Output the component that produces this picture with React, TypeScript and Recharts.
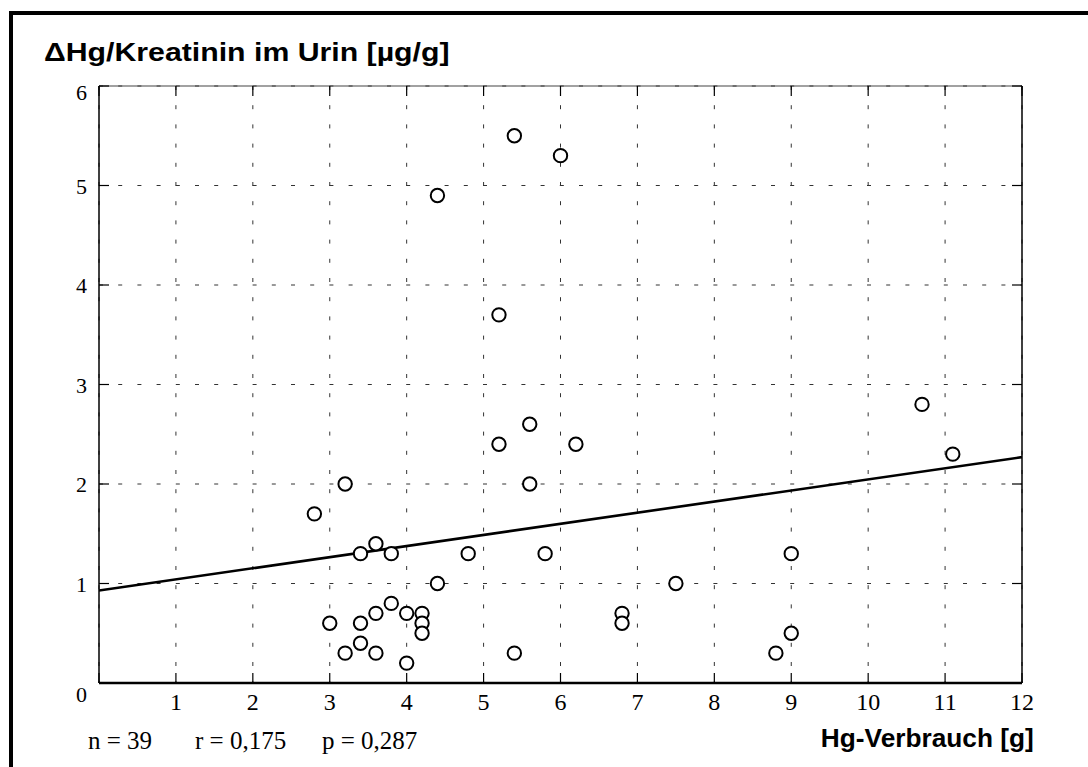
import React from 'react';
import { ScatterChart, Scatter, XAxis, YAxis, CartesianGrid } from 'recharts';

// Hg consumption [g] per subject
const hgConsumption = [
  2.8, 3.2, 3.0, 3.2, 3.4, 3.4, 3.4, 3.6, 3.6, 3.6,
  3.8, 3.8, 4.0, 4.0, 4.2, 4.2, 4.2, 4.4, 4.4, 4.8,
  5.2, 5.2, 5.4, 5.4, 5.6, 5.6, 5.8, 6.0, 6.2, 6.8,
  6.8, 7.5, 8.8, 9.0, 9.0, 10.7, 11.1,
];

// change of Hg/creatinine in urine [µg/g]
const hgCreatinineDelta = [
  1.7, 2.0, 0.6, 0.3, 1.3, 0.6, 0.4, 1.4, 0.7, 0.3,
  1.3, 0.8, 0.7, 0.2, 0.7, 0.6, 0.5, 1.0, 4.9, 1.3,
  3.7, 2.4, 5.5, 0.3, 2.6, 2.0, 1.3, 5.3, 2.4, 0.7,
  0.6, 1.0, 0.3, 1.3, 0.5, 2.8, 2.3,
];

// linear regression endpoints over the x range
const regressionX = [0, 12];
const regressionY = [0.93, 2.27];

const xTicks = [0, 1, 2, 3, 4, 5, 6, 7, 8, 9, 10, 11, 12];
const yTicks = [0, 1, 2, 3, 4, 5, 6];

const statsLabels = ['n = 39', 'r = 0,175', 'p = 0,287'];
const yTitle = 'ΔHg/Kreatinin im Urin [µg/g]';
const xTitle = 'Hg-Verbrauch [g]';

const points = hgConsumption.map((x, i) => ({ x, y: hgCreatinineDelta[i] }));
const regression = regressionX.map((x, i) => ({ x, y: regressionY[i] }));

const SERIF = '"Liberation Serif", "Times New Roman", serif';
const SANS = '"Liberation Sans", Arial, sans-serif';
const TICK_LEN = 10;

const BottomTick = (props: any) => {
  const { x, y, payload } = props;
  return (
    <g>
      <line x1={x} x2={x} y1={y} y2={y - TICK_LEN} stroke="#000" strokeWidth={1.2} />
      {payload.value !== 0 && (
        <text x={x} y={y + 27} textAnchor="middle" fontFamily={SERIF} fontSize={24} fill="#000">
          {payload.value}
        </text>
      )}
    </g>
  );
};

const TopTick = (props: any) => {
  const { x, y } = props;
  return <line x1={x} x2={x} y1={y} y2={y + TICK_LEN} stroke="#000" strokeWidth={1.2} />;
};

const LeftTick = (props: any) => {
  const { x, y, payload } = props;
  const dy = payload.value === 0 ? 19 : payload.value === 6 ? 14 : 8;
  return (
    <g>
      <line x1={x} x2={x + TICK_LEN} y1={y} y2={y} stroke="#000" strokeWidth={1.2} />
      <text x={x - 12} y={y + dy} textAnchor="end" fontFamily={SERIF} fontSize={22} fill="#000">
        {payload.value}
      </text>
    </g>
  );
};

const RightTick = (props: any) => {
  const { x, y } = props;
  return <line x1={x} x2={x - TICK_LEN} y1={y} y2={y} stroke="#000" strokeWidth={1.2} />;
};

const OpenCircle = (props: any) => (
  <circle cx={props.cx} cy={props.cy} r={6.7} fill="#fff" stroke="#000" strokeWidth={2} />
);

const NoShape = () => <g />;

export default function App() {
  return (
    <div
      style={{
        position: 'fixed',
        left: 0,
        top: 0,
        width: 1088,
        height: 767,
        overflow: 'hidden',
        background: '#fff',
      }}
    >
      {/* outer frame */}
      <div style={{ position: 'absolute', left: 9, top: 11, width: 1079, height: 4, background: '#000' }} />
      <div style={{ position: 'absolute', left: 9, top: 11, width: 4, height: 756, background: '#000' }} />

      <div
        style={{
          position: 'absolute',
          left: 44,
          top: 37,
          fontFamily: SANS,
          fontWeight: 'bold',
          fontSize: 25,
          lineHeight: '30px',
          whiteSpace: 'nowrap',
          color: '#000',
          transform: 'scaleX(1.21)',
          transformOrigin: 'left center',
        }}
      >
        {yTitle}
      </div>

      <ScatterChart
        width={1088}
        height={767}
        margin={{ top: 76, right: 56, bottom: 54, left: 39 }}
        style={{ position: 'absolute', left: 0, top: 0 }}
      >
        <CartesianGrid stroke="#333" strokeWidth={1} strokeDasharray="4 15.2" />
        <XAxis
          xAxisId={0}
          type="number"
          dataKey="x"
          domain={[0, 12]}
          ticks={xTicks}
          allowDataOverflow
          height={30}
          tickSize={0}
          tickMargin={0}
          tick={<BottomTick />}
          axisLine={{ stroke: '#000', strokeWidth: 2.5 }}
          tickLine={false}
          interval={0}
        />
        <XAxis
          xAxisId="top"
          orientation="top"
          type="number"
          dataKey="x"
          domain={[0, 12]}
          ticks={xTicks}
          allowDataOverflow
          height={10}
          tickSize={0}
          tickMargin={0}
          tick={<TopTick />}
          axisLine={{ stroke: '#444', strokeWidth: 1.2 }}
          tickLine={false}
          interval={0}
        />
        <YAxis
          yAxisId={0}
          type="number"
          dataKey="y"
          domain={[0, 6]}
          ticks={yTicks}
          allowDataOverflow
          width={60}
          tickSize={0}
          tickMargin={0}
          tick={<LeftTick />}
          axisLine={{ stroke: '#000', strokeWidth: 1.5 }}
          tickLine={false}
          interval={0}
        />
        <YAxis
          yAxisId="right"
          orientation="right"
          type="number"
          dataKey="y"
          domain={[0, 6]}
          ticks={yTicks}
          allowDataOverflow
          width={10}
          tickSize={0}
          tickMargin={0}
          tick={<RightTick />}
          axisLine={{ stroke: '#000', strokeWidth: 1.5 }}
          tickLine={false}
          interval={0}
        />
        <Scatter
          data={regression}
          line={{ stroke: '#000', strokeWidth: 2.6 }}
          shape={<NoShape />}
          isAnimationActive={false}
        />
        <Scatter data={points} shape={<OpenCircle />} isAnimationActive={false} />
        <Scatter data={regression} xAxisId="top" yAxisId="right" shape={<NoShape />} isAnimationActive={false} />
      </ScatterChart>

      <div
        style={{
          position: 'absolute',
          top: 725,
          left: 0,
          width: 1088,
          height: 32,
          fontFamily: SERIF,
          fontSize: 25,
          lineHeight: '32px',
          color: '#000',
        }}
      >
        <span style={{ position: 'absolute', left: 88 }}>{statsLabels[0]}</span>
        <span style={{ position: 'absolute', left: 195 }}>{statsLabels[1]}</span>
        <span style={{ position: 'absolute', left: 322 }}>{statsLabels[2]}</span>
      </div>

      <div
        style={{
          position: 'absolute',
          right: 1088 - 1034,
          top: 723,
          fontFamily: SANS,
          fontWeight: 'bold',
          fontSize: 25,
          lineHeight: '30px',
          whiteSpace: 'nowrap',
          color: '#000',
          transform: 'scaleX(1.05)',
          transformOrigin: 'right center',
        }}
      >
        {xTitle}
      </div>
    </div>
  );
}
